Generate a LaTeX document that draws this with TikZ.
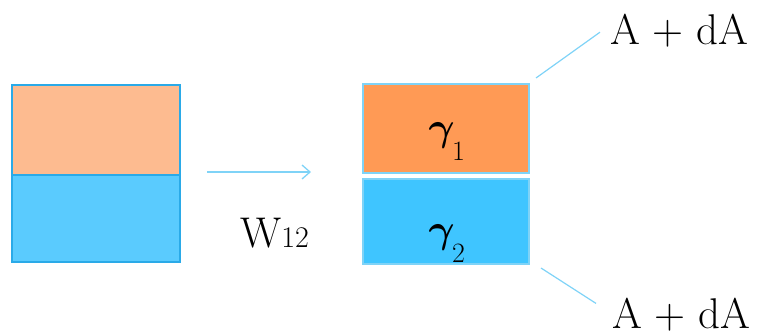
\RequirePackage{fix-cm}
\documentclass[tikz,border=0pt]{standalone}
\usepackage{amsmath,bm}
\usetikzlibrary{positioning,arrows.meta}

\definecolor{peach}{HTML}{FDBB90}
\definecolor{skyfill}{HTML}{5ACBFE}
\definecolor{orangefill}{HTML}{FF9A55}
\definecolor{bluefill}{HTML}{3FC5FF}
\definecolor{edgeblue}{HTML}{2AAAE8}
\definecolor{lineblue}{HTML}{7FD3F7}

\tikzset{
  layer/.style={draw=edgeblue, line width=1.6pt, inner sep=0pt, outer sep=0pt,
    minimum width=168pt},
  phase/.style={draw=lineblue, line width=1.4pt, inner sep=0pt, outer sep=0pt,
    minimum width=166pt},
  gammalabel/.style={font=\fontsize{40}{44}\selectfont, inner sep=0pt, anchor=base},
  area/.style={font=\fontsize{43}{46}\selectfont, inner sep=0pt},
  link/.style={draw=lineblue, line width=1.2pt}
}

\begin{document}
\begin{tikzpicture}[x=1pt,y=-1pt]

    % Fix the page size
    \useasboundingbox (0,0) rectangle (760,335);

    % Draw the two liquids before mixing
    \node[layer, fill=peach, minimum height=90pt, anchor=north west] (upper) at (12,85) {};
    \node[layer, fill=skyfill, minimum height=87pt, anchor=north] (lower) at (upper.south) {};

    % Draw the two liquids with their tensions
    \node[phase, fill=orangefill, minimum height=89pt, anchor=north west] (gone) at (363,84) {};
    \node[phase, fill=bluefill, minimum height=85pt, anchor=north west] (gtwo) at (363,179) {};
    \node[gammalabel] (tone) at (447,140) {$\bm{\gamma}_{\raisebox{-14pt}{$\scriptstyle 1$}}$};
    \node[gammalabel] (ttwo) at (447,242) {$\bm{\gamma}_{\raisebox{-14pt}{$\scriptstyle 2$}}$};

    % Draw the work arrow
    \coordinate (from) at (207,172);
    \coordinate (to) at (311,172);
    \draw[-{Straight Barb[length=8pt,width=14pt]}, link, line width=1.3pt] (from) -- (to);
    \node[area, anchor=base west] (work) at (240,247) {W{\fontsize{30}{32}\selectfont 12}};

    % Draw the areas
    \node[area, anchor=base west] (atop) at (610,44) {A + dA};
    \node[area, anchor=base west] (abot) at (612,328) {A + dA};
    \coordinate (ctop) at (536,78);
    \coordinate (cbot) at (541,268);
    \draw[link] (ctop) -- ([xshift=-10pt,yshift=-2pt]atop.west);
    \draw[link] (cbot) -- ([xshift=-16pt,yshift=-6pt]abot.north west);

\end{tikzpicture}
\end{document}
